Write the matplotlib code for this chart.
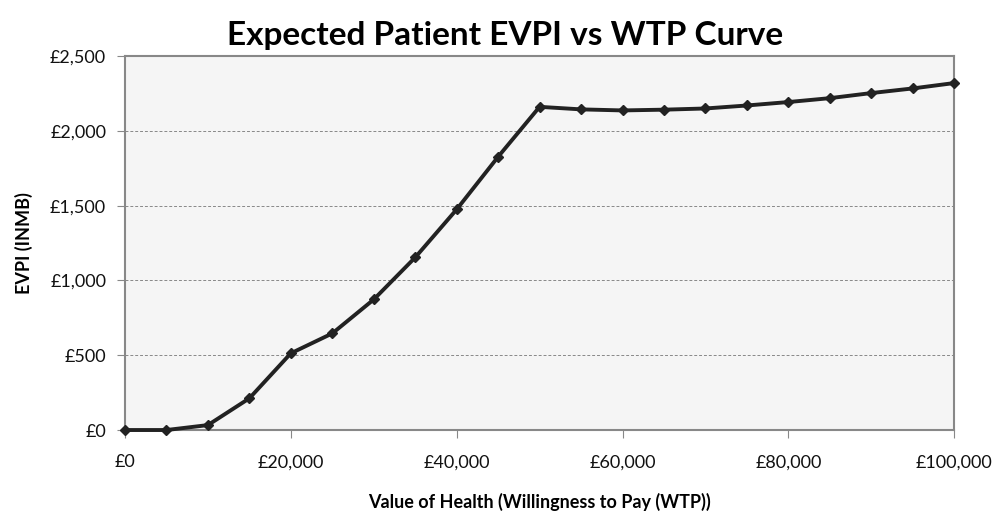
import matplotlib
matplotlib.use("Agg")
import matplotlib.pyplot as plt
from matplotlib.ticker import FuncFormatter

wtp = [0, 5000, 10000, 15000, 20000, 25000, 30000, 35000, 40000, 45000, 50000,
       55000, 60000, 65000, 70000, 75000, 80000, 85000, 90000, 95000, 100000]
evpi = [0, 0, 33, 212, 513, 646, 873, 1154, 1475, 1827, 2161,
        2144, 2137, 2142, 2150, 2170, 2193, 2219, 2253, 2284, 2320]

title = "Expected Patient EVPI vs WTP Curve"
xlabel = "Value of Health (Willingness to Pay (WTP))"
ylabel = "EVPI (INMB)"

plt.rcParams['font.family'] = ['Lato', 'DejaVu Sans']

fig = plt.figure(figsize=(9.96, 5.15), dpi=100)
ax = fig.add_axes([0.1255, 0.165, 0.8325, 0.726])
ax.set_facecolor('#f5f5f5')
ax.plot(wtp, evpi, color='#222222', lw=2.8, marker='D', ms=5, mfc='#222222', mec='#222222',
        zorder=3, clip_on=False)

ax.set_xlim(0, 100000)
ax.set_ylim(0, 2500)
ax.set_xticks(range(0, 100001, 20000))
ax.set_yticks(range(0, 2501, 500))
ax.xaxis.set_major_formatter(FuncFormatter(lambda v, p: "£{:,.0f}".format(v)))
ax.yaxis.set_major_formatter(FuncFormatter(lambda v, p: "£{:,.0f}".format(v)))
ax.yaxis.grid(True, color='#888888', ls=(0, (3, 2)), lw=0.7)
ax.set_axisbelow(True)
for s in ax.spines.values():
    s.set_color('#888888')
    s.set_linewidth(1.5)
ax.tick_params(axis='both', colors='#888888', labelcolor='#111111', labelsize=13, length=5.5, direction='out')
ax.tick_params(axis='x', pad=12)
ax.tick_params(axis='y', pad=8)

fig.text(0.5075, 1 - 35 / 515, title, ha='center', va='center', fontsize=24, fontweight='bold')
ax.set_xlabel(xlabel, fontsize=13, fontweight='bold', labelpad=16)
ax.set_ylabel(ylabel, fontsize=13, fontweight='bold', labelpad=12)

fig.savefig('out.png', dpi=100)
